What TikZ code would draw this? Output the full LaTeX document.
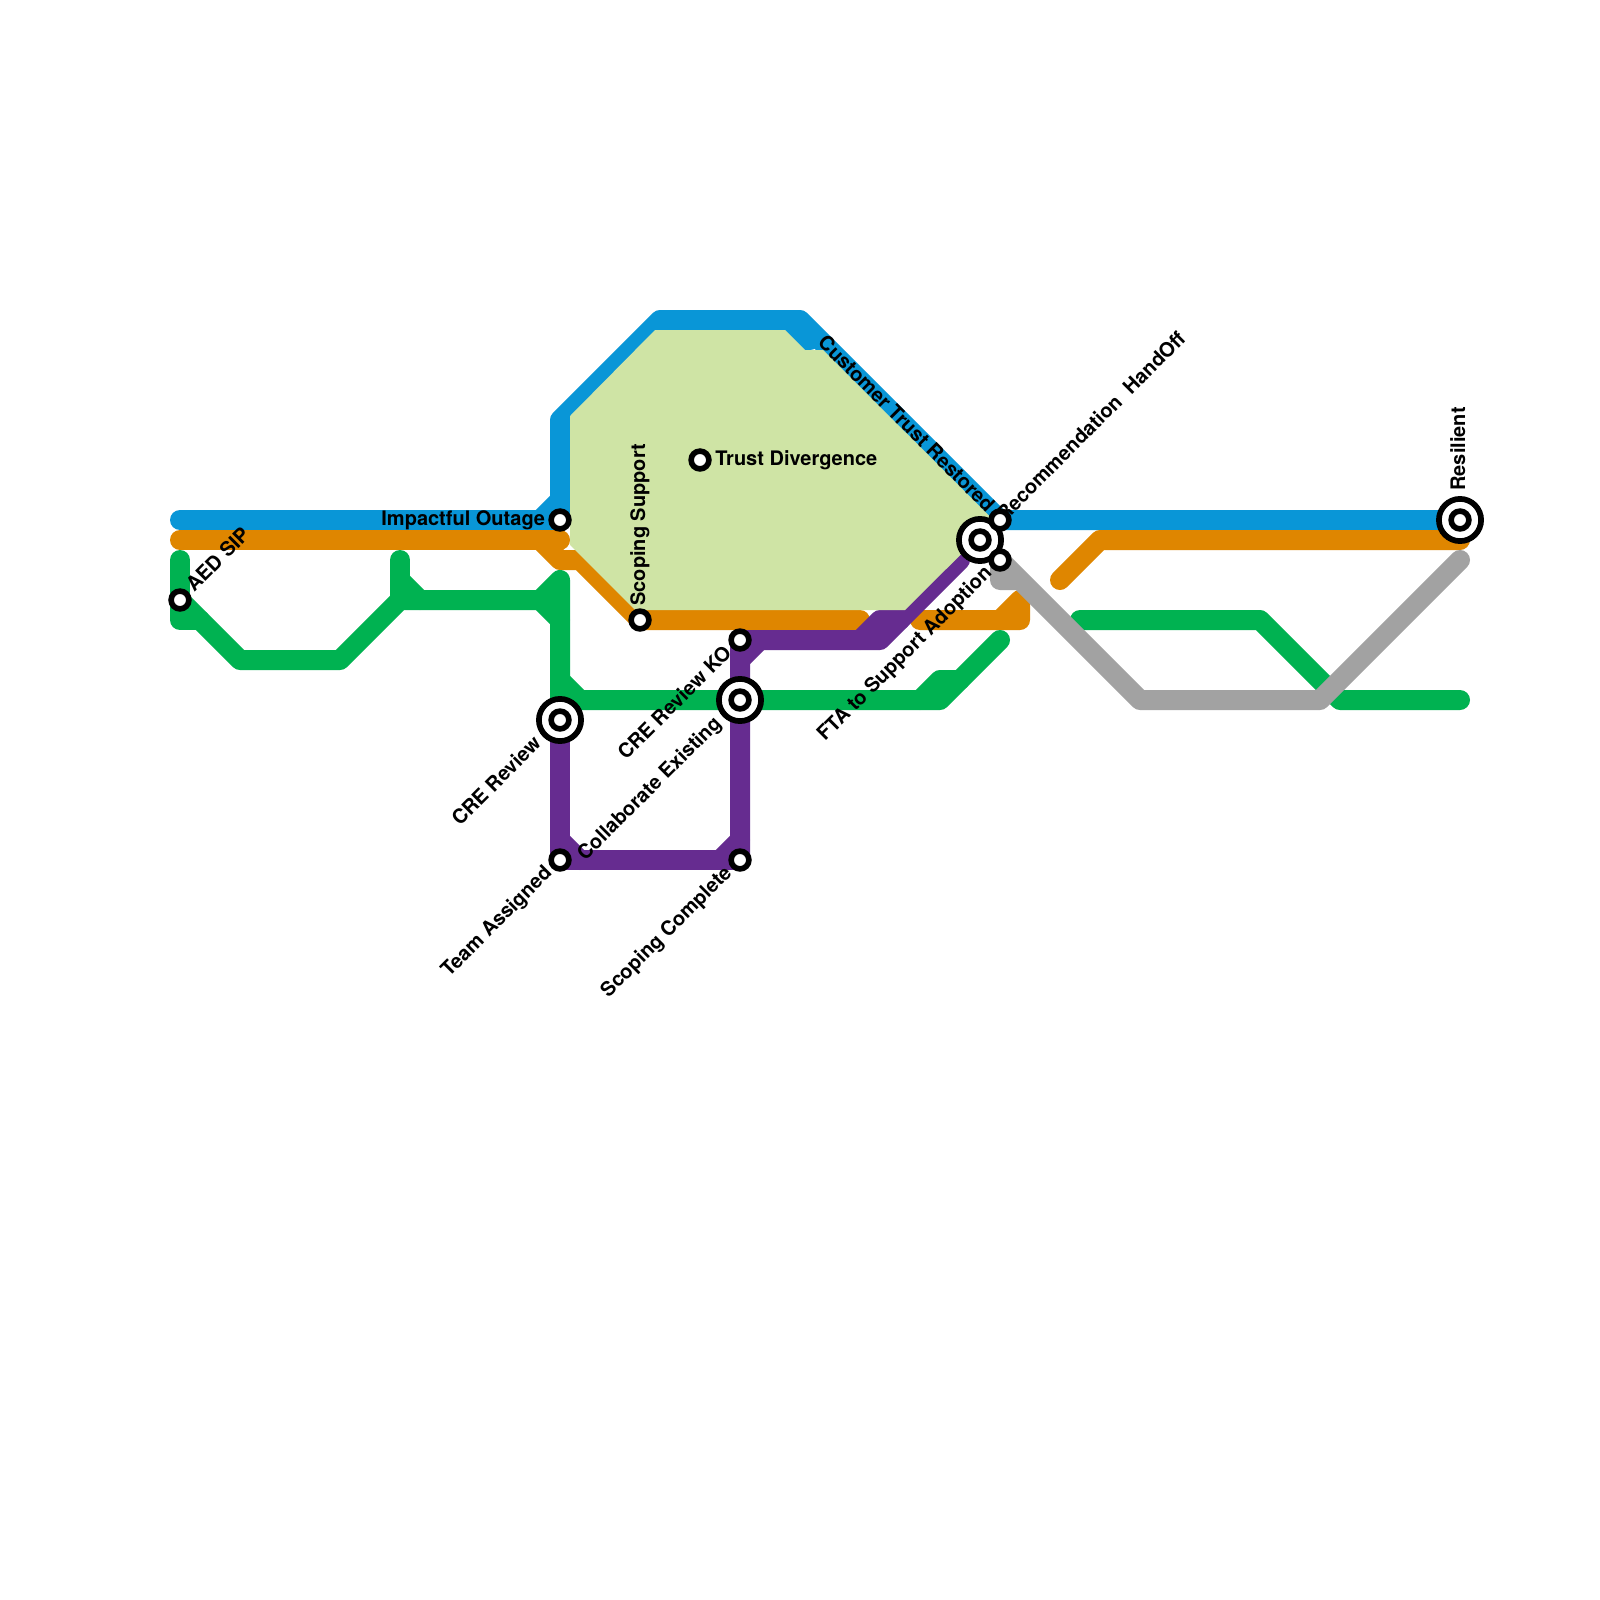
\documentclass[tikz,border=0pt]{standalone}
\usepackage{fontspec}
\setmainfont{TeX Gyre Heros}
\definecolor{lblue}{HTML}{0996D7}
\definecolor{lorange}{HTML}{DF8600}
\definecolor{lgreen}{HTML}{00B251}
\definecolor{lpurple}{HTML}{662C90}
\definecolor{lgrey}{HTML}{A2A2A2}
\definecolor{lfill}{HTML}{CFE4A5}
\tikzset{
  metro/.style={line width=10pt,line cap=round,line join=round},
  stn/.style={circle,draw=black,fill=white,line width=2.8pt,inner sep=0pt,minimum size=8.9pt},
  bigstn/.style={circle,draw=black,fill=white,line width=2.85pt,inner sep=0pt,minimum size=21.1pt},
  lab/.style={font=\bfseries\fontsize{10pt}{12pt}\selectfont,inner sep=0pt,text=black},
}
\begin{document}
\begin{tikzpicture}[x=0.5pt,y=-0.5pt]
\useasboundingbox[fill=white] (0,0) rectangle (1600,1600);
% named stops
\coordinate (aed) at (180,600);
\coordinate (impact) at (560,520);
\coordinate (scopesup) at (640,620);
\coordinate (trust) at (700,460);
\coordinate (crekop) at (740,640);
\coordinate (crerev) at (560,720);
\coordinate (collab) at (740,700);
\coordinate (team) at (560,860);
\coordinate (scopecomp) at (740,860);
\coordinate (custtrust) at (1000,520);
\coordinate (recom) at (980,540);
\coordinate (fta) at (1000,560);
\coordinate (resil) at (1460,520);
% blue
\draw[metro,lblue] (180,520) -- (impact);
\draw[metro,lblue] (540,520) -- (560,500);
\draw[metro,lblue] (impact) -- (560,420) -- (660,320) -- (800,320) -- (custtrust) -- (resil);
\draw[metro,lblue] (780,320) -- (800,340) -- (810,340);
% orange
\draw[metro,lorange] (180,540) -- (560,540);
\draw[metro,lorange] (540,540) -- (560,560) -- (580,560) -- (scopesup) -- (860,620);
\draw[metro,lorange] (920,620) -- (1020,620) -- (1020,600) -- (1000,620);
\draw[metro,lorange] (1060,580) -- (1100,540) -- (1460,540);
% green
\draw[metro,lgreen] (180,560) -- (180,620) -- (200,620);
\draw[metro,lgreen] (aed) -- (240,660) -- (340,660) -- (400,600) -- (540,600) -- (560,580) -- (560,700);
\draw[metro,lgreen] (400,560) -- (400,600);
\draw[metro,lgreen] (400,580) -- (420,600);
\draw[metro,lgreen] (540,600) -- (560,620);
\draw[metro,lgreen] (560,680) -- (580,700) -- (940,700) -- (1000,640);
\draw[metro,lgreen] (920,700) -- (940,680) -- (960,680);
\draw[metro,lgreen] (1080,620) -- (1260,620) -- (1340,700) -- (1460,700);
% purple
\draw[metro,lpurple] (960,560) -- (880,640) -- (crekop) -- (scopecomp);
\draw[metro,lpurple] (860,640) -- (880,620) -- (900,620);
\draw[metro,lpurple] (740,660) -- (760,640);
\draw[metro,lpurple] (740,840) -- (720,860);
\draw[metro,lpurple] (crerev) -- (team) -- (scopecomp);
\draw[metro,lpurple] (560,840) -- (580,860);
% grey
\draw[metro,lgrey] (1020,580) -- (1000,580) -- (fta) -- (1140,700) -- (1320,700) -- (1460,560);
% interchange area, lies over the lines
\fill[lfill] (570,416) -- (655,330) -- (785,330) -- (805,350) -- (823,350) -- (994.5,521) -- (905,610) -- (635,610) -- (570,545) -- cycle;
% big stations
\node[bigstn] (crerevB) at (crerev) {};
\node[bigstn] (collabB) at (collab) {};
\node[bigstn] (recomB) at (recom) {};
\node[bigstn] (resilB) at (resil) {};
% labels
\node[lab,anchor=base west,rotate=45] (lrecom) at (1004.5,522.5) {Recommendation\ \ HandOff};
\node[stn] (aedS) at (aed) {};
\node[stn] (impactS) at (impact) {};
\node[stn] (scopesupS) at (scopesup) {};
\node[stn] (trustS) at (trust) {};
\node[stn] (crekopS) at (crekop) {};
\node[stn] (crerevS) at (crerev) {};
\node[stn] (collabS) at (collab) {};
\node[stn] (teamS) at (team) {};
\node[stn] (scopecompS) at (scopecomp) {};
\node[stn] (custS) at (custtrust) {};
\node[stn] (recomS) at (recom) {};
\node[stn] (ftaS) at (fta) {};
\node[stn] (resilS) at (resil) {};
\node[lab,anchor=base west,rotate=45] (laed) at (194,593) {AED SIP};
\node[lab,anchor=base east] (limp) at (545.5,525) {Impactful Outage};
\node[lab,anchor=base west,rotate=90] (lscs) at (645,606) {Scoping Support};
\node[lab,anchor=base west] (ltrust) at (715,465) {Trust Divergence};
\node[lab,anchor=base east,rotate=45] (lko) at (733,654) {CRE Review KO};
\node[lab,anchor=base east,rotate=45] (lcre) at (542.5,744.5) {CRE Review};
\node[lab,anchor=base east,rotate=45] (lcol) at (722.5,724.5) {Collaborate Existing};
\node[lab,anchor=base east,rotate=45] (lteam) at (553,874) {Team Assigned};
\node[lab,anchor=base east,rotate=45] (lscc) at (733,874) {Scoping Complete};
\node[lab,anchor=base east,rotate=-45] (lcust) at (986.5,513.5) {Customer Trust Restored};
\node[lab,anchor=base east,rotate=45] (lfta) at (993,574) {FTA to Support Adoption};
\node[lab,anchor=base west,rotate=90] (lres) at (1465,491) {Resilient};
\end{tikzpicture}
\end{document}
